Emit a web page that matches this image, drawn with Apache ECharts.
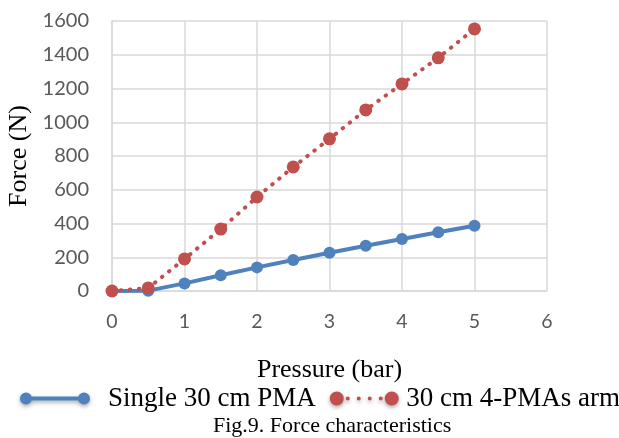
<!DOCTYPE html>
<html>
<head>
<meta charset="utf-8">
<script src="https://cdn.jsdelivr.net/npm/echarts@6/dist/echarts.min.js"></script>
<style>
  html, body { margin: 0; padding: 0; background: #fff; }
  #chart { width: 619px; height: 438px; }
</style>
</head>
<body>
<div id="chart"></div>
<script>
// Pressure steps (bar)
const pressure = [0, 0.5, 1, 1.5, 2, 2.5, 3, 3.5, 4, 4.5, 5];
// Force (N) for each configuration
const singlePMA = [0, 2, 45, 93, 140, 184, 227, 268, 308, 348, 387];
const armPMAs = [0, 18, 190, 367, 557, 735, 902, 1073, 1227, 1382, 1553];
const seriesNames = ['Single 30 cm PMA', '30 cm 4-PMAs arm'];
const xTicks = { min: 0, max: 6, step: 1 };
const yTicks = { min: 0, max: 1600, step: 200 };

const blue = '#4F81BD';
const red = '#C0504D';
const grid = '#D9D9D9';
const tickColor = '#595959';
const serif = '"Liberation Serif", "Times New Roman", serif';
const sans = 'Lato, "Open Sans", sans-serif';

const pairs = ys => pressure.map((x, i) => [x, ys[i]]);

// Legend glyphs: a solid bar between two dots, and a dotted run between two dots
const solidIcon = 'path://M6,1A6,6,0,1,1,6,13A6,6,0,1,1,6,1Z M6,5L64,5L64,9L6,9Z M64,1A6,6,0,1,1,64,13A6,6,0,1,1,64,1Z';
const dottedIcon = 'path://M7,0A7,7,0,1,1,7,14A7,7,0,1,1,7,0Z ' +
  'M18,5A2,2,0,1,1,18,9A2,2,0,1,1,18,5Z M29,5A2,2,0,1,1,29,9A2,2,0,1,1,29,5Z ' +
  'M40,5A2,2,0,1,1,40,9A2,2,0,1,1,40,5Z M51,5A2,2,0,1,1,51,9A2,2,0,1,1,51,5Z ' +
  'M62,0A7,7,0,1,1,62,14A7,7,0,1,1,62,0Z';

const chart = echarts.init(document.getElementById('chart'), null, { renderer: 'canvas' });
chart.setOption({
  animation: false,
  backgroundColor: '#fff',
  title: {
    text: 'Fig.9. Force characteristics',
    left: 213,
    top: 415,
    padding: 0,
    textStyle: { fontFamily: serif, fontSize: 22, fontWeight: 'normal', color: '#000' }
  },
  legend: {
    left: 20,
    top: 385,
    width: 660,
    padding: 0,
    itemGap: 14,
    itemWidth: 70,
    itemHeight: 14,
    itemStyle: { shadowBlur: 4, shadowColor: 'rgba(0,0,0,0.35)', shadowOffsetY: 2 },
    textStyle: { fontFamily: serif, fontSize: 27, color: '#000' },
    data: [
      { name: seriesNames[0], icon: solidIcon, itemStyle: { color: blue },
        textStyle: { padding: [0, 0, 0, 13] } },
      { name: seriesNames[1], icon: dottedIcon, itemStyle: { color: red },
        textStyle: { padding: [0, 0, 0, 2] } }
    ]
  },
  grid: { left: 112, right: 72, top: 21, bottom: 147, containLabel: false, outerBoundsMode: 'none' },
  xAxis: {
    type: 'value',
    min: xTicks.min, max: xTicks.max, interval: xTicks.step,
    name: 'Pressure (bar)',
    nameLocation: 'middle',
    nameGap: 66,
    nameTextStyle: { fontFamily: serif, fontSize: 26, color: '#000' },
    axisLine: { show: true, lineStyle: { color: grid, width: 1.5 } },
    axisTick: { show: false },
    axisLabel: { margin: 21, fontFamily: sans, fontSize: 19.5, color: tickColor },
    splitLine: { show: true, lineStyle: { color: grid, width: 1.5 } }
  },
  yAxis: {
    type: 'value',
    min: yTicks.min, max: yTicks.max, interval: yTicks.step,
    name: 'Force (N)',
    nameLocation: 'middle',
    nameGap: 80,
    nameTextStyle: { fontFamily: serif, fontSize: 26, color: '#000' },
    axisLine: { show: true, lineStyle: { color: grid, width: 1.5 } },
    axisTick: { show: false },
    axisLabel: { margin: 23, fontFamily: sans, fontSize: 20, color: tickColor,
      formatter: v => String(v) },
    splitLine: { show: true, lineStyle: { color: grid, width: 1.5 } }
  },
  series: [
    {
      name: seriesNames[0],
      type: 'line',
      data: pairs(singlePMA),
      symbol: 'circle',
      symbolSize: 12,
      itemStyle: { color: blue },
      lineStyle: { color: blue, width: 4 }
    },
    {
      name: seriesNames[1],
      type: 'line',
      data: pairs(armPMAs),
      symbol: 'circle',
      symbolSize: 13,
      itemStyle: { color: red },
      lineStyle: { color: red, width: 4, type: [0.5, 8.5], cap: 'round' }
    }
  ]
});
</script>
</body>
</html>
